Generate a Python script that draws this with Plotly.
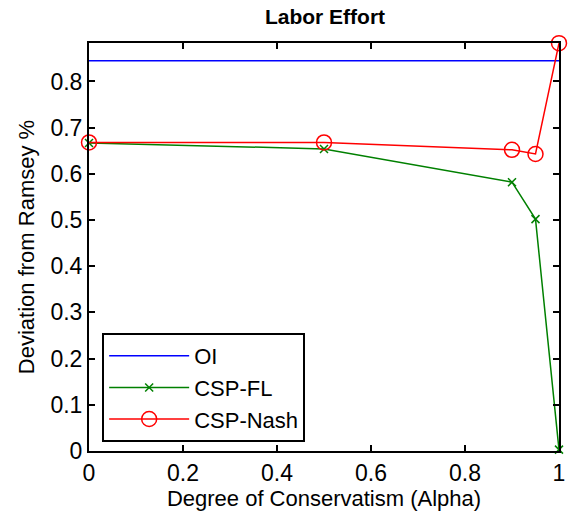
import plotly.graph_objects as go

alpha = [0, 0.5, 0.9, 0.95, 1]
oi_x = [0, 1]
oi_y = [0.845, 0.845]
csp_fl = [0.667, 0.654, 0.582, 0.502, 0.003]
csp_nash = [0.668, 0.668, 0.652, 0.643, 0.883]

FONT = "Liberation Sans, Arial, sans-serif"

fig = go.Figure()
fig.add_trace(go.Scatter(x=oi_x, y=oi_y, mode="lines", name="OI",
                         line=dict(color="#0000FF", width=1.5), cliponaxis=False))
fig.add_trace(go.Scatter(x=alpha, y=csp_fl, mode="lines+markers", name="CSP-FL",
                         line=dict(color="#008000", width=1.5),
                         marker=dict(symbol="x-thin-open", size=8,
                                     line=dict(color="#008000", width=1.5)),
                         cliponaxis=False))
fig.add_trace(go.Scatter(x=alpha, y=csp_nash, mode="lines+markers", name="CSP-Nash",
                         line=dict(color="#FF0000", width=1.5),
                         marker=dict(symbol="circle-open", size=15,
                                     line=dict(color="#FF0000", width=1.5)),
                         cliponaxis=False))

axis_common = dict(showgrid=False, zeroline=False, showline=True, linecolor="black",
                   linewidth=2, mirror="ticks", ticks="inside", ticklen=6,
                   tickwidth=1.5, tickcolor="black",
                   tickfont=dict(family=FONT, size=23, color="black"))

L, T, R, B = 89, 43, 561, 451
fig.update_layout(
    width=577, height=521,
    margin=dict(l=L, r=577 - R, t=T, b=521 - B),
    paper_bgcolor="white", plot_bgcolor="white",
    title=dict(text="<b>Labor Effort</b>", x=(L + R) / 2 / 577, xanchor="center",
               y=1 - 17 / 521, yanchor="middle", yref="container",
               font=dict(family=FONT, size=21, color="black")),
    xaxis=dict(range=[0, 1], tickvals=[0, 0.2, 0.4, 0.6, 0.8, 1],
               title=dict(text="Degree of Conservatism (Alpha)", standoff=6,
                          font=dict(family=FONT, size=22, color="black")),
               **axis_common),
    yaxis=dict(range=[0, 0.8833], tickvals=[0, 0.1, 0.2, 0.3, 0.4, 0.5, 0.6, 0.7, 0.8],
               title=dict(text="Deviation from Ramsey %", standoff=10,
                          font=dict(family=FONT, size=22, color="black")),
               **axis_common),
    legend=dict(x=0.028, y=0.022, xanchor="left", yanchor="bottom",
                bordercolor="black", borderwidth=2, bgcolor="white",
                font=dict(family=FONT, size=22, color="black"),
                itemwidth=80, tracegroupgap=0),
    showlegend=True,
)

fig.write_html("out.html", config={"displayModeBar": False},
               post_script="document.body.style.margin='0';")
